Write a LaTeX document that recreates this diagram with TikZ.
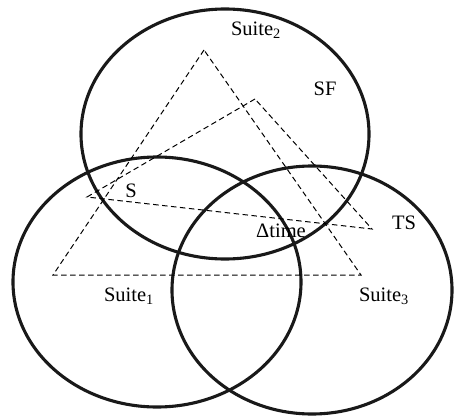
\documentclass[tikz,border=0pt]{standalone}
\usepackage{fontspec}
\setmainfont{Liberation Serif}
\usetikzlibrary{positioning}

\begin{document}
\begin{tikzpicture}[x=1pt,y=-1pt,
		venn/.style={black!90,line width=3.1pt},
		tri/.style={black,line width=1pt,dash pattern=on 5.5pt off 3.5pt},
		lbl/.style={font=\fontsize{20.5}{23}\selectfont,inner sep=0pt}]
			\useasboundingbox (0,0) rectangle (454,417);
			% the three suites
			\draw[venn] (225,134) ellipse [x radius=144, y radius=125];
			\draw[venn] (157,282) ellipse [x radius=144, y radius=125];
			\draw[venn] (312,290) ellipse [x radius=140, y radius=124];
			% corners of the two triangles
			\coordinate (top) at (204,50);
			\coordinate (bl) at (53,275);
			\coordinate (br) at (361,275);
			\coordinate (sf) at (255,99);
			\coordinate (s) at (87,197);
			\coordinate (ts) at (372,229);
			\draw[tri] (top) -- (bl) -- (br) -- cycle;
			\draw[tri] (sf) -- (s) -- (ts) -- cycle;
			% labels
			\node[lbl] (suite2) at (256,30) {Suite\textsubscript{2}};
			\node[lbl] (sflbl) at (325,89) {SF};
			\node[lbl] (slbl) at (131,191) {S};
			\node[lbl] (dtime) at (281,231) {Δtime};
			\node[lbl] (tslbl) at (404,223) {TS};
			\node[lbl] (suite1) at (129,296) {Suite\textsubscript{1}};
			\node[lbl] (suite3) at (384,296) {Suite\textsubscript{3}};
		\end{tikzpicture}
\end{document}
